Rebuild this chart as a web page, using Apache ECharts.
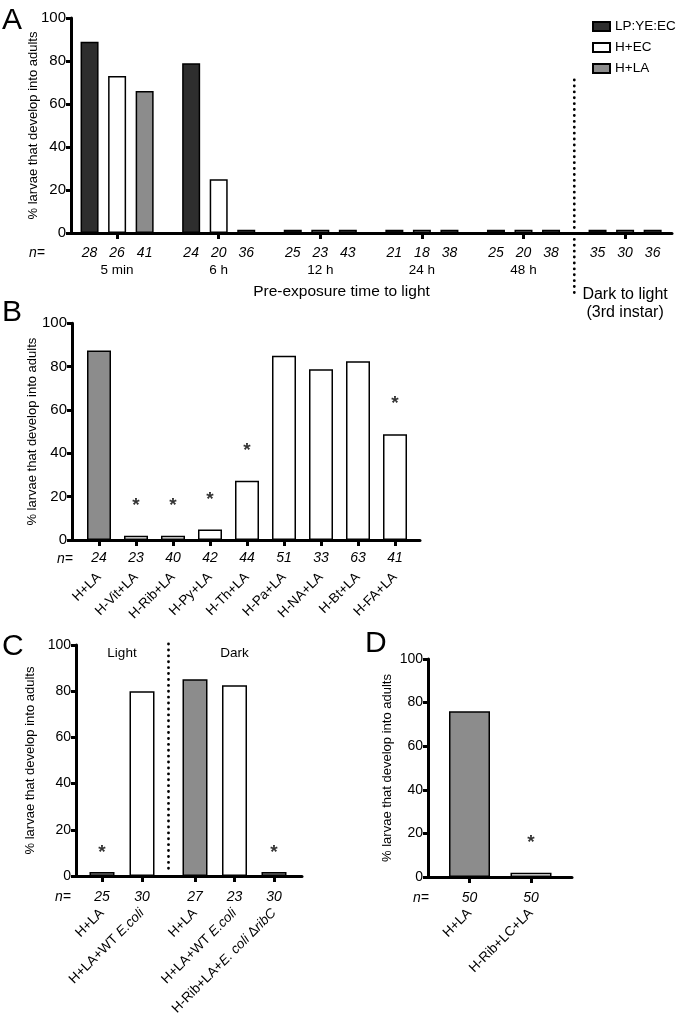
<!DOCTYPE html>
<html><head><meta charset="utf-8">
<script src="https://cdn.jsdelivr.net/npm/echarts/dist/echarts.min.js"></script>
<style>html,body{margin:0;padding:0;background:#fff}#c{width:677px;height:1015px}</style>
</head><body><div id="c"></div>
<script>
// ---------------- DATA ----------------
// Panel A
const catsA = ['5 min', '6 h', '12 h', '24 h', '48 h', 'Dark to light (3rd instar)'];
const seriesNamesA = ['LP:YE:EC', 'H+EC', 'H+LA'];
const valsA_LP = [89, 79, 1.5, 1.5, 1.5, 1.5];
const valsA_EC = [73, 25, 1.5, 1.5, 1.5, 1.5];
const valsA_LA = [66, 1.5, 1.5, 1.5, 1.5, 1.5];
const nA_LP = [28, 24, 25, 21, 25, 35];
const nA_EC = [26, 20, 23, 18, 20, 30];
const nA_LA = [41, 36, 43, 38, 38, 36];
// Panel B
const catsB = ['H+LA', 'H-Vit+LA', 'H-Rib+LA', 'H-Py+LA', 'H-Th+LA', 'H-Pa+LA', 'H-NA+LA', 'H-Bt+LA', 'H-FA+LA'];
const valsB = [87.5, 2, 2, 4.8, 27.3, 85, 78.8, 82.5, 48.8];
const nB = [24, 23, 40, 42, 44, 51, 33, 63, 41];
const sigB = [0, 1, 1, 1, 1, 0, 0, 0, 1];
// Panel C
const catsC_light = ['H+LA', 'H+LA+WT E.coli'];
const valsC_light = [1.7, 80];
const nC_light = [25, 30];
const sigC_light = [1, 0];
const catsC_dark = ['H+LA', 'H+LA+WT E.coli', 'H-Rib+LA+E. coli \u0394ribC'];
const valsC_dark = [85.2, 82.6, 1.7];
const nC_dark = [27, 23, 30];
const sigC_dark = [0, 0, 1];
// Panel D
const catsD = ['H+LA', 'H-Rib+LC+LA'];
const valsD = [76, 2];
const nD = [50, 50];
const sigD = [0, 1];
// y ticks
const yTicks = [0, 20, 40, 60, 80, 100];
const yLabel = '% larvae that develop into adults';

// ---------------- STYLE ----------------
const FONT = '"Liberation Sans", Arial, Helvetica, sans-serif';
const DARK = '#2e2e2e', GRAY = '#8c8c8c', WHITE = '#ffffff';
const fillsA = [DARK, WHITE, GRAY];
const fillsC_light = [GRAY, WHITE];
const fillsC_dark = [GRAY, WHITE, GRAY];
const fillsD = [GRAY, WHITE];
const fillsB = catsB.map(c => c === 'H+LA' ? GRAY : WHITE);

const chart = echarts.init(document.getElementById('c'), null, {renderer: 'canvas'});

const grids = [
  {left: 71, top: 18, width: 601, height: 215},          // 0 frame A
  {left: 66.3, top: 18, width: 609.6, height: 215},      // 1 data A
  {left: 72, top: 323.3, width: 348, height: 216.7},     // 2 frame B
  {left: 80.5, top: 323.3, width: 333, height: 216.7},   // 3 data B
  {left: 76, top: 645, width: 226, height: 231},         // 4 frame C
  {left: 82, top: 645, width: 80, height: 231},          // 5 C light
  {left: 175.25, top: 645, width: 118.5, height: 231},   // 6 C dark
  {left: 428, top: 659, width: 144, height: 218},        // 7 frame D
  {left: 438.75, top: 659, width: 123, height: 218}      // 8 data D
].map(g => Object.assign({outerBoundsMode: 'none', containLabel: false}, g));

const frames = {0: {lab: 15, gap: 31}, 2: {lab: 15, gap: 33}, 4: {lab: 14, gap: 39}, 7: {lab: 14, gap: 34}};

const xAxes = [], yAxes = [];
const rich = {
  r: {fontSize: 13.5, fontFamily: FONT, color: '#000'},
  i: {fontSize: 13.5, fontFamily: FONT, color: '#000', fontStyle: 'italic'}
};
function fmtName(v) {
  const s = v.replace(/E\. ?coli/g, m => '}{i|' + m + '}{r|').replace(/ribC/g, '}{i|ribC}{r|');
  return '{r|' + s + '}';
}
const dataCats = {1: catsA, 3: catsB, 5: catsC_light, 6: catsC_dark, 8: catsD};
const dataMargins = {1: 30, 3: 35, 5: 35, 6: 35, 8: 34};
for (let gi = 0; gi < grids.length; gi++) {
  if (frames[gi]) {
    xAxes.push({gridIndex: gi, type: 'value', min: 0, max: 1, z: 5,
      axisLine: {show: true, lineStyle: {color: '#000', width: 3}},
      axisTick: {show: false}, axisLabel: {show: false}, splitLine: {show: false}});
    yAxes.push({gridIndex: gi, type: 'value', min: 0, max: 100, interval: 20, z: 5,
      name: yLabel, nameLocation: 'middle', nameGap: frames[gi].gap, nameMoveOverlap: false,
      nameTextStyle: {fontSize: 13, fontFamily: FONT, color: '#000'},
      axisLine: {show: true, lineStyle: {color: '#000', width: 3}},
      axisTick: {show: true, length: 5, lineStyle: {color: '#000', width: 3}},
      axisLabel: {show: true, margin: 5, fontSize: frames[gi].lab, fontFamily: FONT, color: '#000',
        formatter: v => yTicks.includes(v) ? String(v) : ''},
      splitLine: {show: false}});
  } else {
    const isA = gi === 1;
    xAxes.push({gridIndex: gi, type: 'category', data: dataCats[gi], boundaryGap: true, z: 5,
      axisLine: {show: false},
      axisTick: {show: true, alignWithLabel: true, length: 6, lineStyle: {color: '#000', width: 3}},
      axisLabel: isA ? {show: true, interval: 0, margin: dataMargins[gi], fontSize: 13.5, fontFamily: FONT, color: '#000',
          formatter: (v, i) => i === catsA.length - 1 ? '' : v}
        : {show: true, interval: 0, rotate: 45, margin: dataMargins[gi], formatter: fmtName, rich: rich},
      splitLine: {show: false}});
    yAxes.push({gridIndex: gi, type: 'value', min: 0, max: 100, show: false, splitLine: {show: false}});
  }
}

const nLabel = (arr, dist) => ({show: true, position: 'bottom', distance: dist,
  formatter: p => String(arr[p.dataIndex]), fontStyle: 'italic', fontSize: 14, fontFamily: FONT, color: '#000'});
const barStyle = {borderColor: '#000', borderWidth: 1.5};
function bars(ai, vals, fills, ns, width, dist, name) {
  return {type: 'bar', name: name, xAxisIndex: ai, yAxisIndex: ai, barWidth: width, silent: true,
    data: vals.map((v, i) => ({value: v, itemStyle: Object.assign({color: fills[i]}, barStyle)})),
    label: nLabel(ns, dist)};
}
function stars(ai, vals, sig, dist) {
  return {type: 'scatter', xAxisIndex: ai, yAxisIndex: ai, symbolSize: 1, silent: true, z: 6,
    itemStyle: {color: 'rgba(0,0,0,0)'},
    data: vals.map((v, i) => sig[i] ? v : '-'),
    label: {show: true, position: 'top', distance: dist, formatter: '*', fontSize: 19, fontWeight: 'bold', fontFamily: FONT, color: '#000'}};
}

const valsA = [valsA_LP, valsA_EC, valsA_LA];
const nA = [nA_LP, nA_EC, nA_LA];
const series = [];
seriesNamesA.forEach((nm, k) => {
  series.push({type: 'bar', name: nm, xAxisIndex: 1, yAxisIndex: 1, barWidth: 18, barGap: '53%', silent: true,
    data: valsA[k],
    itemStyle: Object.assign({color: fillsA[k]}, barStyle),
    label: nLabel(nA[k], 13)});
});
series.push(bars(3, valsB, fillsB, nB, 24, 11, 'B'));
series.push(stars(3, valsB, sigB, 20));
series.push(bars(5, valsC_light, fillsC_light, nC_light, 25, 14, 'C light'));
series.push(stars(5, valsC_light, sigC_light, 9));
series.push(bars(6, valsC_dark, fillsC_dark, nC_dark, 25, 14, 'C dark'));
series.push(stars(6, valsC_dark, sigC_dark, 9));
series.push(bars(8, valsD, fillsD, nD, 41, 14, 'D'));
series.push(stars(8, valsD, sigD, 20));

const option = {
  animation: false,
  backgroundColor: '#fff',
  textStyle: {fontFamily: FONT},
  legend: {data: seriesNamesA, orient: 'vertical', left: 592, top: 19.5, padding: 0, itemWidth: 17, itemHeight: 9,
    itemGap: 7, icon: 'rect', selectedMode: false,
    textStyle: {fontSize: 13.5, fontFamily: FONT, color: '#000'}},
  grid: grids, xAxis: xAxes, yAxis: yAxes, series: series
};
chart.setOption(option);

// decorations
const txt = (x, y, text, size, extra) => ({type: 'text', x: x, y: y, silent: true,
  style: Object.assign({text: text, fontSize: size, fontFamily: FONT, fill: '#000', align: 'center', verticalAlign: 'middle'}, extra || {})});
const dot = (x, y1, y2) => ({type: 'line', silent: true, shape: {x1: x, y1: y1, x2: x, y2: y2},
  style: {stroke: '#000', lineWidth: 2.8, lineDash: [0.1, 5.8], lineCap: 'round'}});
const xDotA = (chart.convertToPixel({xAxisIndex: 1}, 4) + chart.convertToPixel({xAxisIndex: 1}, 5)) / 2;
const xDotC = (chart.convertToPixel({xAxisIndex: 5}, 1) + chart.convertToPixel({xAxisIndex: 6}, 0)) / 2;
const xDark = chart.convertToPixel({xAxisIndex: 1}, 5);
const xLight = (chart.convertToPixel({xAxisIndex: 5}, 0) + chart.convertToPixel({xAxisIndex: 5}, 1)) / 2;
const xDarkC = chart.convertToPixel({xAxisIndex: 6}, 1);

chart.setOption({graphic: [
  txt(2, 6, 'A', 30, {align: 'left', verticalAlign: 'top'}),
  txt(2, 298, 'B', 30, {align: 'left', verticalAlign: 'top'}),
  txt(2, 632, 'C', 30, {align: 'left', verticalAlign: 'top'}),
  txt(365, 629, 'D', 30, {align: 'left', verticalAlign: 'top'}),
  txt(29, 253, 'n=', 14, {align: 'left', fontStyle: 'italic'}),
  txt(57, 559, 'n=', 14, {align: 'left', fontStyle: 'italic'}),
  txt(55, 897, 'n=', 14, {align: 'left', fontStyle: 'italic'}),
  txt(413, 898, 'n=', 14, {align: 'left', fontStyle: 'italic'}),
  txt(341.5, 292, 'Pre-exposure time to light', 15.5),
  txt(xDark, 295, 'Dark to light', 16),
  txt(xDark, 313, '(3rd instar)', 16),
  txt(xLight, 653, 'Light', 13.5),
  txt(xDarkC, 653, 'Dark', 13.5),
  dot(xDotA, 80, 297),
  dot(xDotC, 644, 872)
]});
</script></body></html>
